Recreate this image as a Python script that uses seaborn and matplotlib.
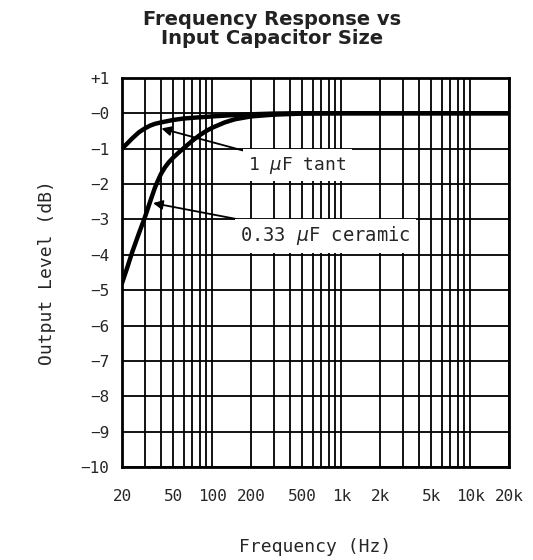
import numpy as np
import pandas as pd
import matplotlib.pyplot as plt
import seaborn as sns

# values
tant_hz = [20, 22, 24, 27, 30, 33, 36, 40, 50, 60, 70, 100, 150, 200, 300,
           500, 1000, 2000, 5000, 10000, 20000]
tant_db = [-1.0, -0.85, -0.71, -0.54, -0.43, -0.35, -0.3, -0.26, -0.19, -0.15,
           -0.13, -0.09, -0.05, -0.03, -0.01, 0, 0, 0, 0, 0, 0]
ceramic_hz = [20, 22, 24, 27, 30, 33, 36, 38, 40, 43, 46, 50, 55, 60, 70, 80,
              90, 100, 125, 150, 200, 300, 500, 1000, 2000, 5000, 10000, 20000]
ceramic_db = [-4.8, -4.35, -3.92, -3.4, -2.95, -2.5, -2.1, -1.9, -1.72, -1.53,
              -1.39, -1.25, -1.11, -0.99, -0.78, -0.62, -0.5, -0.41, -0.26,
              -0.17, -0.09, -0.04, -0.01, 0, 0, 0, 0, 0]

xticks = [20, 50, 100, 200, 500, 1000, 2000, 5000, 10000, 20000]
xticklabels = ["20", "50", "100", "200", "500", "1k", "2k", "5k", "10k", "20k"]
yticks = list(range(1, -11, -1))
yticklabels = ["+1"] + ["\u2212" + str(abs(v)) for v in yticks[1:]]

df = pd.DataFrame({
    "freq": tant_hz + ceramic_hz,
    "db": tant_db + ceramic_db,
    "cap": ["tant"] * len(tant_hz) + ["ceramic"] * len(ceramic_hz),
})

sns.set_style("white")
plt.rcParams["font.family"] = ["DejaVu Sans Mono", "DejaVu Sans"]
plt.rcParams["mathtext.fontset"] = "dejavusans"

fig = plt.figure(figsize=(5.33, 5.6), dpi=100)
ax = fig.add_axes([0.229, 0.166, 0.726, 0.695])

sns.lineplot(data=df, x="freq", y="db", hue="cap", palette=["black", "black"],
             linewidth=3.2, legend=False, ax=ax, zorder=3)
for ln in ax.lines:
    ln.set_solid_joinstyle("round")

ax.set_xscale("log")
ax.set_xlim(20, 20000)
ax.set_ylim(-10, 1)

minor = [m * d for d in [10, 100, 1000, 10000] for m in range(1, 10)
         if 20 <= m * d <= 20000 and m * d not in xticks]
ax.set_xticks(xticks)
ax.set_xticklabels(xticklabels)
ax.set_xticks(minor, minor=True)
ax.xaxis.set_minor_formatter(plt.NullFormatter())
ax.set_yticks(yticks)
ax.set_yticklabels(yticklabels)

ax.grid(True, which="both", color="black", linewidth=1.3)
ax.tick_params(which="both", length=0, labelsize=11.5)
ax.tick_params(axis="x", pad=16)
ax.tick_params(axis="y", pad=9)
for s in ax.spines.values():
    s.set_color("black")
    s.set_linewidth(2)

ax.set_xlabel("Frequency (Hz)", fontsize=13, labelpad=24)
ax.set_ylabel("Output Level (dB)", fontsize=13, labelpad=18)

box = dict(boxstyle="square,pad=0.3", facecolor="white", edgecolor="none")
arrow = dict(arrowstyle="-|>", color="black", lw=1.3, shrinkA=0, shrinkB=0,
             mutation_scale=14)
ax.annotate("1 $\\mu$F tant", xy=(40.4, -0.43), xytext=(190, -1.47),
            fontsize=13, va="center", ha="left", bbox=box, zorder=5,
            arrowprops=arrow)
ax.annotate("0.33 $\\mu$F ceramic", xy=(34.8, -2.54), xytext=(165, -3.47),
            fontsize=13.5, va="center", ha="left", bbox=box, zorder=5,
            arrowprops=arrow)

fig.text(0.51, 0.948, "Frequency Response vs\nInput Capacitor Size",
         ha="center", va="center", fontsize=14, fontweight="bold",
         family="DejaVu Sans", linespacing=1.05, color="#222222")

fig.savefig("out.png", dpi=100)
